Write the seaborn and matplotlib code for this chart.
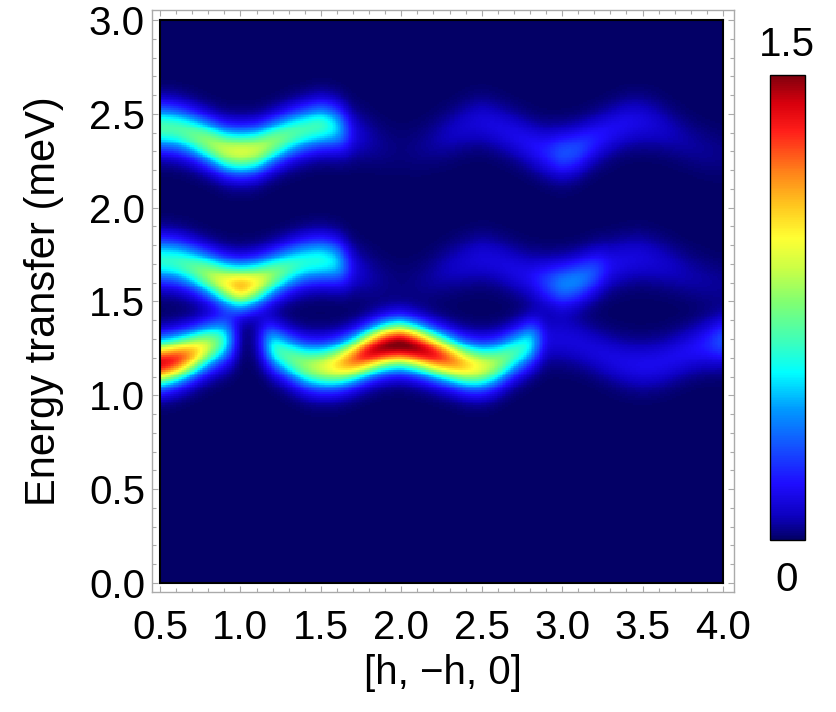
"""
Spin-wave intensity map along [h, -h, 0] with a jet-like colour scale
"""

import numpy as np
import matplotlib
matplotlib.use('Agg')
import matplotlib.pyplot as plt
from matplotlib.colors import LinearSegmentedColormap
import seaborn as sns

q_read = [0.5, 0.6, 0.7, 0.8, 0.9, 1.0, 1.1, 1.2, 1.3, 1.4, 1.5, 1.6,
          1.7, 1.8, 1.9, 2.0, 2.1, 2.2, 2.3, 2.4, 2.5, 2.6, 2.7, 2.8,
          2.9, 3.0, 3.1, 3.2, 3.3, 3.4, 3.5, 3.6, 3.7, 3.8, 3.9, 4.0]

# lower band: centre energy (meV) and peak intensity
low_energy = [1.17, 1.19, 1.22, 1.26, 1.29, 1.30, 1.29, 1.25, 1.20, 1.16, 1.15, 1.16,
              1.19, 1.23, 1.26, 1.27, 1.25, 1.22, 1.19, 1.16, 1.15, 1.17, 1.22, 1.27,
              1.30, 1.30, 1.28, 1.24, 1.20, 1.17, 1.16, 1.17, 1.20, 1.24, 1.27, 1.29]
low_intensity = [1.38, 1.30, 1.10, 0.85, 0.58, 0.00, 0.05, 0.60, 0.68, 0.78, 0.88, 1.02,
                 1.20, 1.38, 1.48, 1.52, 1.45, 1.35, 1.20, 1.05, 0.92, 0.78, 0.64, 0.56,
                 0.12, 0.12, 0.12, 0.12, 0.13, 0.14, 0.15, 0.15, 0.15, 0.16, 0.20, 0.30]

# middle band
mid_energy = [1.72, 1.71, 1.68, 1.64, 1.60, 1.58, 1.60, 1.64, 1.68, 1.71, 1.72, 1.71,
              1.68, 1.64, 1.61, 1.59, 1.60, 1.64, 1.68, 1.71, 1.73, 1.71, 1.67, 1.63,
              1.60, 1.59, 1.61, 1.65, 1.69, 1.72, 1.73, 1.71, 1.68, 1.64, 1.61, 1.59]
mid_intensity = [0.60, 0.62, 0.68, 0.80, 0.95, 1.12, 0.95, 0.76, 0.64, 0.58, 0.58, 0.50,
                 0.12, 0.06, 0.03, 0.02, 0.03, 0.05, 0.08, 0.10, 0.12, 0.12, 0.13, 0.15,
                 0.25, 0.38, 0.38, 0.30, 0.15, 0.13, 0.12, 0.10, 0.08, 0.06, 0.05, 0.04]

# upper band
top_energy = [2.43, 2.42, 2.39, 2.35, 2.31, 2.30, 2.31, 2.35, 2.39, 2.42, 2.44, 2.43,
              2.40, 2.37, 2.33, 2.31, 2.32, 2.36, 2.40, 2.44, 2.46, 2.43, 2.39, 2.34,
              2.30, 2.29, 2.31, 2.36, 2.41, 2.45, 2.46, 2.44, 2.40, 2.35, 2.31, 2.29]
top_intensity = [0.66, 0.66, 0.70, 0.78, 0.86, 0.90, 0.86, 0.76, 0.68, 0.64, 0.64, 0.50,
                 0.12, 0.06, 0.03, 0.02, 0.03, 0.05, 0.08, 0.10, 0.12, 0.13, 0.14, 0.16,
                 0.20, 0.30, 0.28, 0.20, 0.16, 0.15, 0.13, 0.10, 0.07, 0.05, 0.04, 0.03]

band_width = 0.085          # energy broadening (meV)
x_ticks = [0.5, 1.0, 1.5, 2.0, 2.5, 3.0, 3.5, 4.0]
y_ticks = [0.0, 0.5, 1.0, 1.5, 2.0, 2.5, 3.0]

sns.set_theme(style='white')
plt.rcParams['font.family'] = ['Liberation Sans', 'DejaVu Sans']
plt.rcParams['text.color'] = 'black'
plt.rcParams['axes.labelcolor'] = 'black'

# jet-like scale with a dark navy floor
cmap = LinearSegmentedColormap.from_list('spinwave', [
    (0.00, (0.01, 0.00, 0.40)),
    (0.05, (0.05, 0.00, 0.75)),
    (0.12, (0.12, 0.05, 1.00)),
    (0.20, (0.08, 0.32, 1.00)),
    (0.28, (0.00, 0.60, 1.00)),
    (0.36, (0.00, 1.00, 1.00)),
    (0.43, (0.25, 1.00, 0.72)),
    (0.51, (0.50, 1.00, 0.45)),
    (0.58, (0.78, 1.00, 0.28)),
    (0.65, (1.00, 1.00, 0.20)),
    (0.72, (1.00, 0.78, 0.12)),
    (0.79, (1.00, 0.52, 0.10)),
    (0.88, (1.00, 0.12, 0.10)),
    (0.94, (0.85, 0.00, 0.05)),
    (1.00, (0.50, 0.00, 0.05)),
])


def smooth(values, n=3):
    k = np.exp(-0.5 * (np.arange(-3 * n, 3 * n + 1) / n) ** 2)
    k /= k.sum()
    padded = np.pad(values, 3 * n, mode='edge')
    return np.convolve(padded, k, mode='valid')


# intensity table on a fine grid built from the read-off bands
q_grid = np.linspace(0.5, 4.0, 351)
e_grid = np.linspace(0.0, 3.0, 301)
table = np.zeros((len(e_grid), len(q_grid)))
for centres, heights in [(low_energy, low_intensity),
                         (mid_energy, mid_intensity),
                         (top_energy, top_intensity)]:
    c = smooth(np.interp(q_grid, q_read, centres))
    a = smooth(np.interp(q_grid, q_read, heights))
    table += a[None, :] * np.exp(-0.5 * ((e_grid[:, None] - c[None, :]) / band_width) ** 2)
table = np.clip(table, 0, 1.5)

W, H = 836, 712
fig = plt.figure(figsize=(W / 100, H / 100), dpi=100)
ax_hm = fig.add_axes([160 / W, 129 / H, 563 / W, 563 / H])
cax = fig.add_axes([770 / W, 172 / H, 35 / W, 465 / H])

sns.heatmap(table, ax=ax_hm, cmap=cmap, vmin=0, vmax=1.5, cbar_ax=cax,
            xticklabels=False, yticklabels=False, rasterized=True)
ax_hm.invert_yaxis()
for side in ax_hm.spines.values():
    side.set_visible(True)
    side.set_color('black')
    side.set_linewidth(1.5)

# colour bar: labels at the ends only, a small mark in the middle
cbar = ax_hm.collections[0].colorbar
cbar.set_ticks([0.75])
cbar.outline.set_edgecolor('black')
cbar.outline.set_linewidth(1.0)
cax.tick_params(left=True, right=True, direction='in', length=4, width=1,
                color='#333333', labelleft=False, labelright=False)
fig.text(787 / W, 1 - 45 / H, '1.5', ha='center', va='center', fontsize=29, color='black')
fig.text(787 / W, 1 - 580 / H, '0', ha='center', va='center', fontsize=29, color='black')

# grey outer frame carrying the tick marks
ax = fig.add_axes([152 / W, 120 / H, 582 / W, 582 / H])
ax.set_facecolor('none')
ax.set_xlim(0.5 - 8 / 160.86, 4.0 + 11 / 160.86)
ax.set_ylim(-9 / 187.7, 3.0 + 10 / 187.7)
ax.set_xticks(x_ticks)
ax.set_xticklabels([f'{v:.1f}' for v in x_ticks])
ax.set_yticks(y_ticks)
ax.set_yticklabels([f'{v:.1f}' for v in y_ticks])
ax.set_xticks(np.round(np.arange(0.5, 4.01, 0.1), 2), minor=True)
ax.set_yticks(np.round(np.arange(0.0, 3.01, 0.1), 2), minor=True)
ax.tick_params(which='both', direction='in', color='#aaaaaa', width=0.8,
               top=True, right=True, bottom=True, left=True)
ax.tick_params(which='major', length=4.5)
ax.tick_params(which='minor', length=3)
ax.tick_params(axis='x', labelsize=29, pad=12, labelcolor='black')
ax.tick_params(axis='y', labelsize=29, pad=5, labelcolor='black')
for side in ax.spines.values():
    side.set_visible(True)
    side.set_color('#aaaaaa')
    side.set_linewidth(1.0)
ax.grid(False)

ax.set_xlabel('[h, \u2212h, 0]', fontsize=29, labelpad=5, color='black')
ax.set_ylabel('Energy transfer (meV)', fontsize=30, labelpad=18, color='black')

fig.savefig('out.png', dpi=100)
plt.close(fig)
